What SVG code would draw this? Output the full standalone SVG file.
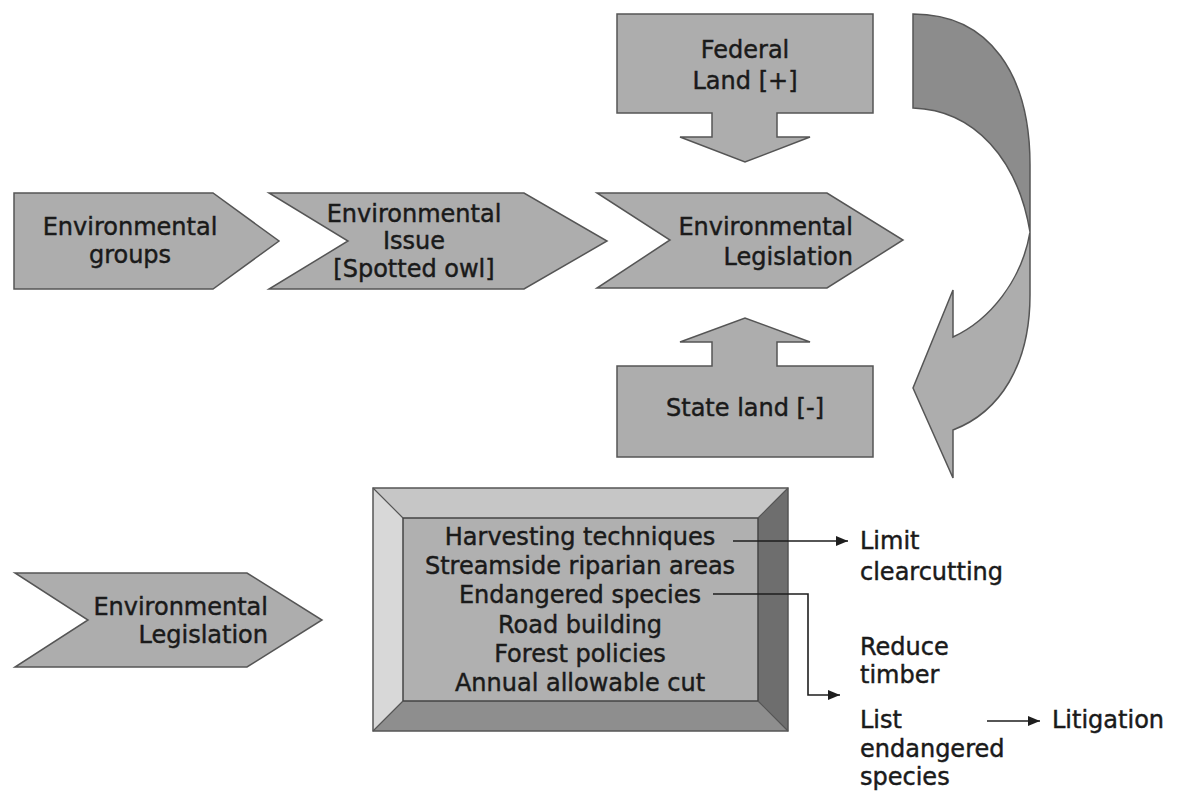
<svg xmlns="http://www.w3.org/2000/svg" width="1178" height="792" viewBox="0 0 1178 792">
  <style>
    .shape { fill: #adadad; stroke: #555555; stroke-width: 1.5; stroke-linejoin: miter; }
    .lbl { font-family: "DejaVu Sans", Verdana, sans-serif; font-size: 24px; fill: #1a1a1a; stroke: #1a1a1a; stroke-width: 0.45; }
    .mid { text-anchor: middle; }
    .end { text-anchor: end; }
    .conn { fill: none; stroke: #1e1e1e; stroke-width: 1.6; }
  </style>
  <defs>
    <marker id="head" viewBox="0 0 12 10" refX="12" refY="5" markerWidth="12" markerHeight="10" markerUnits="userSpaceOnUse" orient="auto">
      <path d="M0,0 L12,5 L0,10 Z" fill="#1e1e1e"/>
    </marker>
  </defs>
  <rect width="1178" height="792" fill="#ffffff"/>

  <!-- top chevron row -->
  <g id="env-groups">
    <polygon class="shape" points="14,193 213,193 279,241 213,289 14,289"/>
    <text class="lbl mid" x="130" y="235">Environmental</text>
    <text class="lbl mid" x="130" y="263">groups</text>
  </g>
  <g id="env-issue">
    <polygon class="shape" points="269,193 524,193 607,241 524,289 269,289 348,241"/>
    <text class="lbl mid" x="414" y="222">Environmental</text>
    <text class="lbl mid" x="414" y="249">Issue</text>
    <text class="lbl mid" x="414" y="277">[Spotted owl]</text>
  </g>
  <g id="env-legislation">
    <polygon class="shape" points="597,193 827,193 903,240 827,288 597,288 670,240"/>
    <text class="lbl end" x="853" y="235">Environmental</text>
    <text class="lbl end" x="853" y="265">Legislation</text>
  </g>

  <!-- land boxes with block arrows -->
  <g id="federal-land">
    <polygon class="shape" points="617,14 873,14 873,113 777,113 777,137 810,137 745,162 680,137 712,137 712,113 617,113"/>
    <text class="lbl mid" x="745" y="58">Federal</text>
    <text class="lbl mid" x="745" y="89">Land [+]</text>
  </g>
  <g id="state-land">
    <polygon class="shape" points="617,457 617,366 712,366 712,342 680,342 745,318 810,342 777,342 777,366 873,366 873,457"/>
    <text class="lbl mid" x="745" y="416">State land [-]</text>
  </g>

  <!-- curved return arrow -->
  <g id="return-arrow">
    <path d="M1030,232 L1030,295 C1030,365 1000,412 953,430 L953,478 L913,388 L953,290 L953,337 C990,320 1022,280 1030,232 Z" fill="#adadad" stroke="#555555" stroke-width="1.5"/>
    <path d="M913,14 C990,14 1030,75 1030,165 L1030,232 C1018,160 975,110 913,108 Z" fill="#8c8c8c" stroke="#555555" stroke-width="1.5"/>
  </g>

  <!-- lower row -->
  <g id="env-legislation-2">
    <polygon class="shape" points="15,573 247,573 322,620 247,667 15,667 88,620"/>
    <text class="lbl end" x="268" y="615">Environmental</text>
    <text class="lbl end" x="268" y="643">Legislation</text>
  </g>

  <g id="topics">
    <rect x="373" y="488" width="415" height="243" fill="#b0b0b0"/>
    <polygon points="373,488 788,488 758,518 403,518" fill="#c6c6c6"/>
    <polygon points="373,488 403,518 403,701 373,731" fill="#d8d8d8"/>
    <polygon points="788,488 788,731 758,701 758,518" fill="#6e6e6e"/>
    <polygon points="373,731 403,701 758,701 788,731" fill="#8e8e8e"/>
    <rect x="373" y="488" width="415" height="243" fill="none" stroke="#555555" stroke-width="1.5"/>
    <rect x="403" y="518" width="355" height="183" fill="none" stroke="#444444" stroke-width="1.5"/>
    <path d="M373,488 L403,518 M788,488 L758,518 M373,731 L403,701 M788,731 L758,701" stroke="#555555" stroke-width="1.2"/>
    <text class="lbl mid" x="580" y="545">Harvesting techniques</text>
    <text class="lbl mid" x="580" y="574">Streamside riparian areas</text>
    <text class="lbl mid" x="580" y="603">Endangered species</text>
    <text class="lbl mid" x="580" y="633">Road building</text>
    <text class="lbl mid" x="580" y="662">Forest policies</text>
    <text class="lbl mid" x="580" y="691">Annual allowable cut</text>
  </g>

  <g id="outcome-clearcutting">
    <text class="lbl" x="860" y="549">Limit</text>
    <text class="lbl" x="860" y="580">clearcutting</text>
  </g>
  <g id="outcome-timber">
    <text class="lbl" x="860" y="655">Reduce</text>
    <text class="lbl" x="860" y="683">timber</text>
  </g>
  <g id="outcome-listing">
    <text class="lbl" x="860" y="728">List</text>
    <text class="lbl" x="860" y="757">endangered</text>
    <text class="lbl" x="860" y="785">species</text>
  </g>
  <g id="outcome-litigation">
    <text class="lbl" x="1052" y="728">Litigation</text>
  </g>

  <!-- connectors -->
  <g id="connectors">
    <path class="conn" d="M733,541 H848" marker-end="url(#head)"/>
    <path class="conn" d="M713,594 H808 V695 H840" marker-end="url(#head)"/>
    <path class="conn" d="M987,721 H1040" marker-end="url(#head)"/>
  </g>
</svg>
